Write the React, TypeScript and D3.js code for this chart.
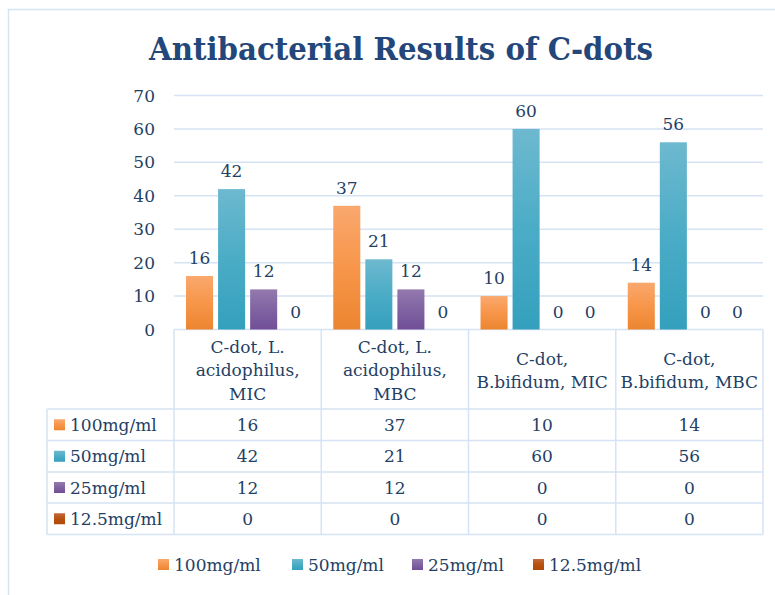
import React from "react";
import * as d3 from "d3";

const categories = [
  ["C-dot, L.", "acidophilus,", "MIC"],
  ["C-dot, L.", "acidophilus,", "MBC"],
  ["C-dot,", "B.bifidum, MIC"],
  ["C-dot,", "B.bifidum, MBC"],
];
const seriesNames = ["100mg/ml", "50mg/ml", "25mg/ml", "12.5mg/ml"];
const v100 = [16, 37, 10, 14];
const v50 = [42, 21, 60, 56];
const v25 = [12, 12, 0, 0];
const v12 = [0, 0, 0, 0];
const yTicks = [0, 10, 20, 30, 40, 50, 60, 70];

const seriesValues = [v100, v50, v25, v12];
const gradTop = ["#FAA86E", "#6DB9CF", "#9479AE", "#C0693A"];
const gradBot = ["#EC8530", "#34A0BD", "#714E97", "#B04A08"];
const legendColor = ["#F7964A", "#4BACC6", "#8064A2", "#B8500F"];

const TEXT = "#243F65";
const GRID = "#D6E3F4";
const FONT = "'DejaVu Serif', serif";
const FS = 17;

export default function App() {
  const W = 775, H = 595;
  const x0 = 174, x1 = 763;
  const y = d3.scaleLinear().domain([0, 70]).range([329.5, 95.5]);
  const xb = d3.scaleBand<number>().domain(d3.range(categories.length)).range([x0, x1]);
  const xs = d3.scaleBand<number>().domain(d3.range(seriesNames.length)).range([0, xb.bandwidth()]).paddingInner(5 / 32).paddingOuter(0.375);

  const rowTops = [409, 440.5, 472, 503, 534.5];
  const headerTop = 329.5;
  const tableLeft = 47;

  return (
    <svg width={W} height={H} style={{ position: "absolute", left: 0, top: 0 }} fontFamily={FONT}>
      <defs>
        {gradTop.map((c, i) => (
          <linearGradient key={i} id={`g${i}`} x1="0" y1="0" x2="0" y2="1">
            <stop offset="0" stopColor={c} />
            <stop offset="0.5" stopColor={legendColor[i]} />
            <stop offset="1" stopColor={gradBot[i]} />
          </linearGradient>
        ))}
      </defs>
      <rect x={0} y={0} width={W} height={H} fill="#fff" />
      <rect x={8.5} y={9.5} width={900} height={900} fill="none" stroke={GRID} strokeWidth={1.5} />
      <text x={401} y={60} textAnchor="middle" fontSize={32.5} fontWeight="bold" fill="#23477A" fontFamily="'DejaVu Serif Condensed', 'DejaVu Serif', serif" fontStretch="condensed">
        Antibacterial Results of C-dots
      </text>
      {yTicks.map((t) => (
        <g key={t}>
          <line x1={x0} x2={x1} y1={y(t)} y2={y(t)} stroke={GRID} strokeWidth={1.5} />
          <text x={155} y={y(t) + 6} textAnchor="end" fontSize={FS} fill={TEXT}>{t}</text>
        </g>
      ))}
      {seriesValues.map((vals, si) =>
        vals.map((v, ci) => {
          const bx = (xb(ci) as number) + (xs(si) as number);
          const bw = xs.bandwidth();
          return (
            <g key={`${si}-${ci}`}>
              {v > 0 && <rect x={bx} y={y(v)} width={bw} height={y(0) - y(v)} fill={`url(#g${si})`} />}
              <text x={bx + bw / 2} y={y(v) - 12} textAnchor="middle" fontSize={FS} fill={TEXT}>{v}</text>
            </g>
          );
        })
      )}
      {/* table grid */}
      <g stroke={GRID} strokeWidth={1.5} fill="none">
        {rowTops.map((ry, i) => (
          <line key={i} x1={tableLeft} x2={x1} y1={ry} y2={ry} />
        ))}
        <line x1={tableLeft} x2={tableLeft} y1={rowTops[0]} y2={rowTops[4]} />
        {d3.range(categories.length + 1).map((i) => {
          const xx = i < categories.length ? (xb(i) as number) : x1;
          return <line key={i} x1={xx} x2={xx} y1={headerTop} y2={rowTops[4]} />;
        })}
      </g>
      {categories.map((lines, ci) => {
        const cx = (xb(ci) as number) + xb.bandwidth() / 2;
        const base = lines.length === 3 ? 352.5 : 364.5;
        return (
          <text key={ci} textAnchor="middle" fontSize={FS} fill={TEXT}>
            {lines.map((l, li) => (
              <tspan key={li} x={cx} y={base + li * 23.5}>{l}</tspan>
            ))}
          </text>
        );
      })}
      {seriesNames.map((n, si) => (
        <g key={n}>
          <rect x={54} y={(rowTops[si] + rowTops[si + 1]) / 2 - 5.5} width={11} height={11} fill={`url(#g${si})`} />
          <text x={70} y={(rowTops[si] + rowTops[si + 1]) / 2 + 6} fontSize={FS} fill={TEXT}>{n}</text>
          {seriesValues[si].map((v, ci) => (
            <text key={ci} x={(xb(ci) as number) + xb.bandwidth() / 2} y={(rowTops[si] + rowTops[si + 1]) / 2 + 6} textAnchor="middle" fontSize={FS} fill={TEXT}>{v}</text>
          ))}
        </g>
      ))}
      {/* bottom legend */}
      {seriesNames.map((n, si) => {
        const lx = [158, 292, 412, 533][si];
        return (
          <g key={n}>
            <rect x={lx} y={559} width={11} height={11} fill={`url(#g${si})`} />
            <text x={lx + 16} y={571} fontSize={FS} fill={TEXT}>{n}</text>
          </g>
        );
      })}
    </svg>
  );
}
